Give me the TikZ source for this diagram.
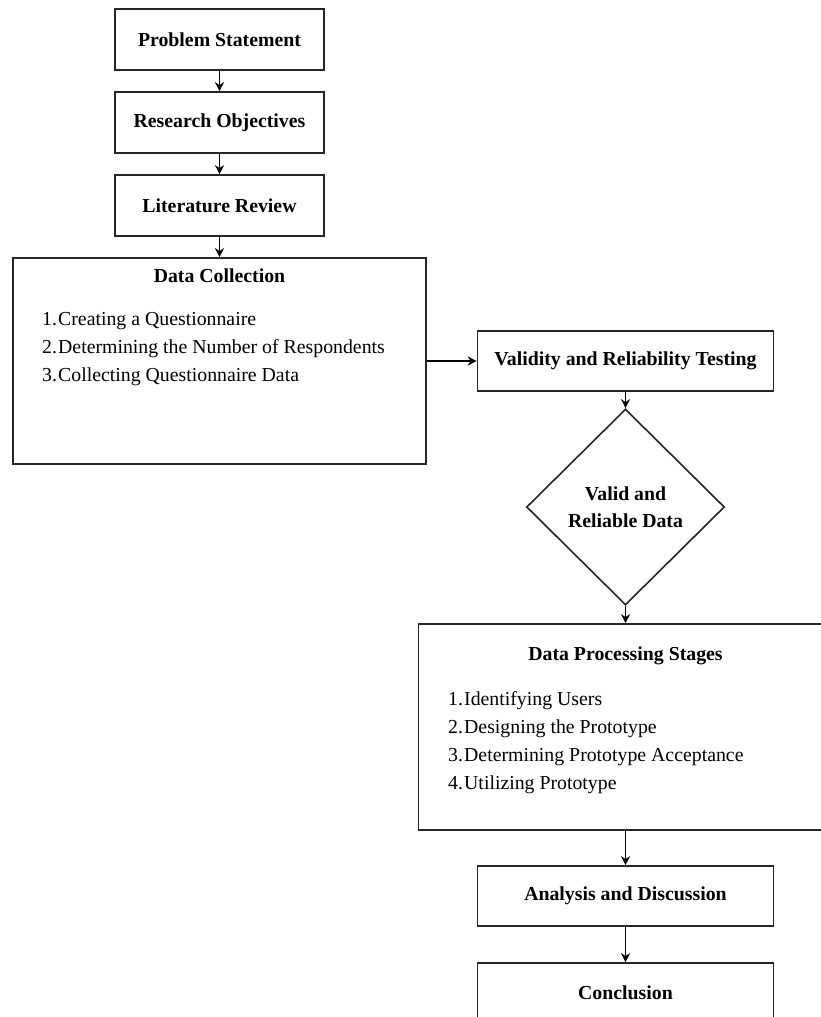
\documentclass[tikz,border=0pt]{standalone}
\usepackage{fontspec}
\setmainfont{Liberation Serif}
\usetikzlibrary{arrows.meta,shapes.geometric}
\tikzset{
  box/.style={draw=black!85, line width=1.6pt, rectangle, minimum width=209pt, minimum height=61pt, inner sep=0pt,
    font=\fontsize{19.8}{22}\selectfont\bfseries},
  rbox/.style={box, minimum width=296pt, minimum height=60pt},
  bigbox/.style={draw=black!85, line width=1.6pt, rectangle, minimum width=413pt, minimum height=206pt, inner sep=0pt},
  dia/.style={draw=black!85, line width=1.6pt, diamond, minimum width=198pt, minimum height=196pt, inner sep=0pt, align=center,
    font=\fontsize{19.8}{27}\selectfont\bfseries},
  title/.style={font=\fontsize{19.8}{22}\selectfont\bfseries, inner sep=0pt},
  items/.style={font=\fontsize{19.8}{28}\selectfont, align=left, inner sep=0pt, anchor=north west},
  arr/.style={line width=1.8pt, -{Stealth[length=9pt,width=9pt]}},
}
\newcommand{\itm}[1]{\makebox[16pt][l]{#1}}
\begin{document}
\begin{tikzpicture}[x=1pt,y=-1pt]
\useasboundingbox (0,0) rectangle (820,1017);
\node[box] (ps) at (219.5,39.5) {Problem Statement};
\node[box] (ro) at (219.5,122.5) {Research Objectives};
\node[box] (lr) at (219.5,205.5) {Literature Review};
\node[bigbox] (dc) at (219.5,361) {};
\node[title] (dct) at (219.5,276) {Data Collection};
\node[items] (dci) at (42,312) {\itm{1.}Creating a Questionnaire\\ \itm{2.}Determining the Number of Respondents\\ \itm{3.}Collecting Questionnaire Data};
\node[rbox] (vrt) at (625.5,361) {Validity and Reliability Testing};
\node[dia] (vr) at (625.5,507) {Valid and\\Reliable Data};
\node[bigbox, minimum width=414pt] (dps) at (625.5,727) {};
\node[title] (dpst) at (625.5,656) {Data Processing Stages};
\node[items] (dpsi) at (448,691) {\itm{1.}Identifying Users\\ \itm{2.}Designing the Prototype\\ \itm{3.}Determining Prototype Acceptance\\ \itm{4.}Utilizing Prototype};
\node[rbox] (ad) at (625.5,896) {Analysis and Discussion};
\node[rbox] (con) at (625.5,993) {Conclusion};
\draw[arr] (ps) -- (ro);
\draw[arr] (ro) -- (lr);
\draw[arr] (lr) -- (dc);
\draw[arr] (dc) -- (vrt);
\draw[arr] (vrt) -- (vr);
\draw[arr] (vr) -- (dps);
\draw[arr] (dps) -- (ad);
\draw[arr] (ad) -- (con);
\end{tikzpicture}
\end{document}
